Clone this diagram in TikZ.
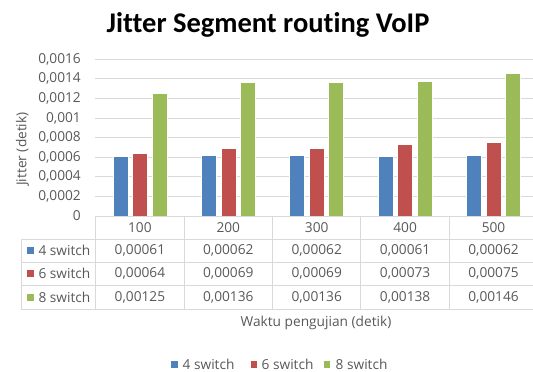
\documentclass[tikz,border=0pt]{standalone}
\usepackage{fontspec}
\setmainfont{Open Sans}
\newfontfamily\titlefont[Ligatures=NoCommon]{Carlito}
\definecolor{cblue}{HTML}{4F81BD}
\definecolor{cred}{HTML}{C0504D}
\definecolor{cgreen}{HTML}{9BBB59}
\definecolor{txt}{HTML}{595959}
\definecolor{gridc}{HTML}{D9D9D9}
\begin{document}
\begin{tikzpicture}[x=1pt,y=-1pt,
  lbl/.style={font=\fontsize{13.7}{16}\selectfont, text=txt, inner sep=0pt},
  gridline/.style={draw=gridc, line width=1pt},
  tabline/.style={draw=gridc, line width=1pt},
  bar/.style={draw=white, line width=0.5pt}]
\useasboundingbox[fill=white] (0,0) rectangle (533,372);
\begin{scope}
\clip (0,0) rectangle (533,372);
% title
\node[font=\titlefont\fontsize{28.5}{34}\selectfont\bfseries, text=black, inner sep=0pt] (title) at (268,25) {Jitter Segment routing VoIP};
% grid and tick labels
\foreach \i/\t in {0/0,1/{0,0002},2/{0,0004},3/{0,0006},4/{0,0008},5/{0,001},6/{0,0012},7/{0,0014},8/{0,0016}}{
  \ifnum\i>0
    \draw[gridline] (95,216-\i*19.6) -- (533,216-\i*19.6);
  \fi
  \node[lbl, anchor=east] (tick\i) at (81,216-\i*19.6) {\t};
}
% y label
\node[lbl, rotate=90] (ylabel) at (22.5,149) {Jitter (detik)};
% bars
\foreach \k/\a/\b/\c in {0/61/64/125,1/62/69/136,2/62/69/136,3/61/73/138,4/62/75/146}{
  \pgfmathsetmacro\cx{95.7+88.4*(\k+0.5)}
  \filldraw[bar, fill=cblue] (\cx-27,216) rectangle (\cx-12,216-\a*0.98);
  \filldraw[bar, fill=cred] (\cx-7.5,216) rectangle (\cx+7.5,216-\b*0.98);
  \filldraw[bar, fill=cgreen] (\cx+12,216) rectangle (\cx+27,216-\c*0.98);
}
% table lines
\draw[tabline] (95.7,216) -- (540,216);
\foreach \y in {239.3,262.3,285.3,309}{
  \draw[tabline] (21.3,\y) -- (540,\y);
}
\draw[tabline] (21.3,239.3) -- (21.3,309);
\foreach \k in {0,...,5}{
  \draw[tabline] (95.7+88.4*\k,216) -- (95.7+88.4*\k,309);
}
% table header and values
\foreach \k/\h/\a/\b/\c in {0/100/{0,00061}/{0,00064}/{0,00125},1/200/{0,00062}/{0,00069}/{0,00136},2/300/{0,00062}/{0,00069}/{0,00136},3/400/{0,00061}/{0,00073}/{0,00138},4/500/{0,00062}/{0,00075}/{0,00146}}{
  \pgfmathsetmacro\cx{95.7+88.4*(\k+0.5)}
  \node[lbl] (h\k) at (\cx,227.6) {\h};
  \node[lbl] (ra\k) at (\cx,250.8) {\a};
  \node[lbl] (rb\k) at (\cx,273.8) {\b};
  \node[lbl] (rc\k) at (\cx,297.1) {\c};
}
% table legend column
\foreach \y/\col/\n/\nm in {250.8/cblue/4/la,273.8/cred/6/lb,297.1/cgreen/8/lc}{
  \fill[\col] (26.7,\y-3.6) rectangle (34,\y+3.6);
  \node[lbl, anchor=west] (\nm) at (38.3,\y) {\n\ switch};
}
% x axis title
\node[lbl] (xlabel) at (316,322.7) {Waktu pengujian (detik)};
% bottom legend
\fill[cblue] (171,361) rectangle (177.5,367.5);
\node[lbl, anchor=west] (lg1) at (182.5,364.3) {4 switch};
\fill[cred] (250.7,361) rectangle (257.2,367.5);
\node[lbl, anchor=west] (lg2) at (261.5,364.3) {6 switch};
\fill[cgreen] (323.5,361) rectangle (330,367.5);
\node[lbl, anchor=west] (lg3) at (335.5,364.3) {8 switch};
\end{scope}
\end{tikzpicture}
\end{document}
